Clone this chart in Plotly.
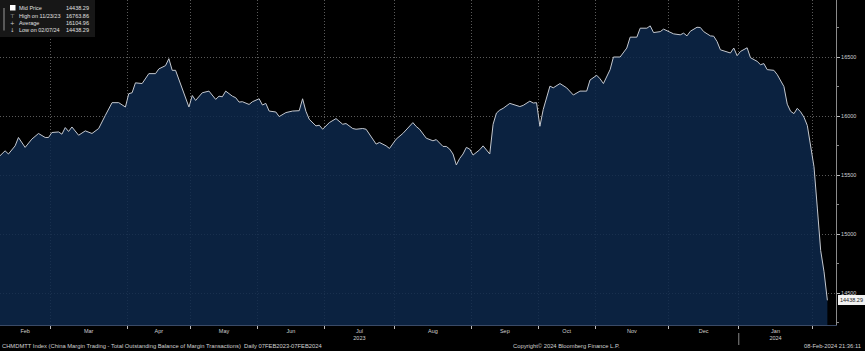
import plotly.graph_objects as go

# ---- data ----
dates = [
    "2023-02-07", "2023-02-09", "2023-02-10", "2023-02-14", "2023-02-15", "2023-02-17", "2023-02-21",
    "2023-02-23", "2023-02-27", "2023-02-28", "2023-03-01", "2023-03-03", "2023-03-06", "2023-03-07",
    "2023-03-08", "2023-03-09", "2023-03-13", "2023-03-15", "2023-03-17", "2023-03-21", "2023-03-23",
    "2023-03-27", "2023-03-29", "2023-03-31", "2023-04-03", "2023-04-04", "2023-04-06", "2023-04-10",
    "2023-04-12", "2023-04-14", "2023-04-17", "2023-04-19", "2023-04-20", "2023-04-21", "2023-04-24",
    "2023-04-26", "2023-04-28", "2023-05-04", "2023-05-05", "2023-05-09", "2023-05-11", "2023-05-15",
    "2023-05-16", "2023-05-17", "2023-05-18", "2023-05-22", "2023-05-23", "2023-05-24", "2023-05-25",
    "2023-05-29", "2023-05-30", "2023-06-01", "2023-06-02", "2023-06-05", "2023-06-06", "2023-06-08",
    "2023-06-09", "2023-06-13", "2023-06-15", "2023-06-19", "2023-06-20", "2023-06-21", "2023-06-26",
    "2023-06-28", "2023-06-29", "2023-06-30", "2023-07-04", "2023-07-06", "2023-07-10", "2023-07-11",
    "2023-07-13", "2023-07-14", "2023-07-18", "2023-07-19", "2023-07-24", "2023-07-25", "2023-07-27",
    "2023-07-28", "2023-08-01", "2023-08-03", "2023-08-08", "2023-08-09", "2023-08-10", "2023-08-14",
    "2023-08-16", "2023-08-17", "2023-08-18", "2023-08-21", "2023-08-22", "2023-08-23", "2023-08-24",
    "2023-08-25", "2023-08-28", "2023-08-29", "2023-08-30", "2023-08-31", "2023-09-01", "2023-09-05",
    "2023-09-06", "2023-09-08", "2023-09-11", "2023-09-12", "2023-09-13", "2023-09-14", "2023-09-18",
    "2023-09-21", "2023-09-22", "2023-09-26", "2023-09-27", "2023-09-28", "2023-10-09", "2023-10-10",
    "2023-10-12", "2023-10-13", "2023-10-17", "2023-10-19", "2023-10-23", "2023-10-25", "2023-10-27",
    "2023-10-30", "2023-11-01", "2023-11-02", "2023-11-03", "2023-11-07", "2023-11-08", "2023-11-10",
    "2023-11-14", "2023-11-15", "2023-11-17", "2023-11-20", "2023-11-22", "2023-11-23", "2023-11-24",
    "2023-11-28", "2023-11-29", "2023-12-01", "2023-12-04", "2023-12-06", "2023-12-07", "2023-12-08",
    "2023-12-11", "2023-12-13", "2023-12-14", "2023-12-15", "2023-12-19", "2023-12-20", "2023-12-21",
    "2023-12-22", "2023-12-26", "2023-12-27", "2023-12-28", "2023-12-29", "2024-01-02", "2024-01-04",
    "2024-01-05", "2024-01-09", "2024-01-10", "2024-01-11", "2024-01-12", "2024-01-16", "2024-01-17",
    "2024-01-19", "2024-01-22", "2024-01-23", "2024-01-24", "2024-01-25", "2024-01-26", "2024-01-29",
    "2024-01-30", "2024-01-31", "2024-02-01", "2024-02-02", "2024-02-05", "2024-02-06", "2024-02-07",
]
mid_price = [
    15650, 15705, 15678, 15747, 15818, 15734, 15804,
    15852, 15818, 15818, 15860, 15865, 15846, 15902,
    15869, 15907, 15837, 15874, 15852, 15894, 16006,
    16113, 16113, 16076, 16189, 16197, 16281, 16275,
    16359, 16359, 16399, 16427, 16486, 16387, 16387,
    16225, 16076, 16174, 16132, 16197, 16211, 16141,
    16168, 16163, 16211, 16168, 16155, 16118, 16121,
    16098, 16121, 16146, 16093, 16107, 16042, 16034,
    15995, 16029, 16042, 16045, 16146, 16040, 15972,
    15916, 15922, 15888, 15944, 15978, 15930, 15936,
    15894, 15888, 15894, 15888, 15762, 15776, 15747,
    15725, 15804, 15852, 15944, 15911, 15888, 15812,
    15790, 15800, 15775, 15742, 15742, 15720, 15678,
    15585, 15640, 15678, 15734, 15720, 15669, 15714,
    15747, 15678, 15930, 16025, 16050, 16065, 16107,
    16080, 16090, 16126, 16110, 16113, 15913, 16056,
    16253, 16239, 16275, 16239, 16178, 16211, 16211,
    16305, 16345, 16315, 16275, 16393, 16500, 16500,
    16576, 16668, 16668, 16744, 16744, 16763.86, 16707,
    16715, 16736, 16707, 16696, 16688, 16702, 16679,
    16718, 16752, 16750, 16715, 16679, 16676, 16631,
    16561, 16547, 16534, 16576, 16511, 16547, 16578,
    16494, 16463, 16435, 16444, 16393, 16387, 16351,
    16250, 16100, 16040, 16020, 16065, 16035, 15990,
    15920, 15760, 15570, 15220, 14860, 14680, 14438.29,
]

# non-trading weekdays (China holidays) in the window
holidays = ["2023-04-05", "2023-05-01", "2023-05-02", "2023-05-03", "2023-06-22", "2023-06-23",
            "2023-09-29", "2023-10-02", "2023-10-03", "2023-10-04", "2023-10-05", "2023-10-06",
            "2024-01-01", "2024-02-09"]

month_labels = ["Feb", "Mar", "Apr", "May", "Jun", "Jul<br>2023", "Aug", "Sep", "Oct", "Nov", "Dec", "Jan<br>2024"]
month_label_pos = ["2023-02-17", "2023-03-16", "2023-04-17", "2023-05-17 12:00", "2023-06-14 12:00",
                   "2023-07-17", "2023-08-16", "2023-09-14 12:00", "2023-10-19", "2023-11-15 12:00",
                   "2023-12-15", "2024-01-16 12:00"]
month_bounds = ["2023-02-28 12:00", "2023-03-31 12:00", "2023-04-28 12:00", "2023-05-31 12:00",
                "2023-06-30 12:00", "2023-07-31 12:00", "2023-08-31 12:00", "2023-09-28 12:00",
                "2023-10-31 12:00", "2023-11-30 12:00", "2023-12-29 12:00", "2024-01-31 12:00"]

y_ticks = [14500, 15000, 15500, 16000, 16500]
y_minor = [14250, 14750, 15250, 15750, 16250, 16750]

legend_rows = [("Mid Price", "14438.29"), ("High on 11/23/23", "16763.86"),
               ("Average", "16104.96"), ("Low on 02/07/24", "14438.29")]
legend_syms = ["", "⊤", "+", "↓"]
last_value = "14438.29"

FONT = "Liberation Sans"
GRID = "#5a5a5a"
GRID_DASH = "1px,2px"

fig = go.Figure()
fig.add_trace(go.Scatter(
    x=dates, y=mid_price, mode="lines",
    line=dict(color="#c4c8cf", width=1),
    fill="tozeroy", fillcolor="rgba(13,40,76,0.84)",
    hoverinfo="skip", showlegend=False,
))

W, H = 865, 351
ML, MR, MT, MB = 0, 29, 0, 26
PW, PH = W - ML - MR, H - MT - MB


def px_x(p):
    return p / PW


def px_y(p):
    return 1 - p / PH


shapes = []
annotations = []

# legend box
shapes.append(dict(type="rect", xref="paper", yref="paper", x0=0, x1=px_x(95), y0=px_y(37), y1=1,
                   fillcolor="#171717", line=dict(width=0), layer="above"))
# tree connector
shapes.append(dict(type="line", xref="paper", yref="paper", x0=px_x(4), x1=px_x(4), y0=px_y(30.5), y1=px_y(8),
                   line=dict(color="#9a9a9a", width=1), layer="above"))
# mid price swatch
shapes.append(dict(type="rect", xref="paper", yref="paper", x0=px_x(10), x1=px_x(15.5), y0=px_y(10.5), y1=px_y(5),
                   fillcolor="#ffffff", line=dict(width=0), layer="above"))
row_y = [8, 15.5, 23, 30.5]
for (lab, val), sym, ry in zip(legend_rows, legend_syms, row_y):
    annotations.append(dict(xref="paper", yref="paper", x=px_x(17), y=px_y(ry), text=lab,
                            xanchor="left", yanchor="middle", showarrow=False,
                            font=dict(family=FONT, size=5.5, color="#e0e0e0")))
    annotations.append(dict(xref="paper", yref="paper", x=px_x(91), y=px_y(ry), text=val,
                            xanchor="right", yanchor="middle", showarrow=False,
                            font=dict(family=FONT, size=5.5, color="#e0e0e0")))
    if sym:
        annotations.append(dict(xref="paper", yref="paper", x=px_x(12.5), y=px_y(ry), text=sym,
                                xanchor="center", yanchor="middle", showarrow=False,
                                font=dict(family="DejaVu Sans", size=5.5, color="#cfcfcf")))

# last value tag
annotations.append(dict(xref="paper", yref="y", x=1, y=mid_price[-1], text=last_value,
                        xanchor="left", yanchor="middle", xshift=2, showarrow=False,
                        bgcolor="#f2f2f2", bordercolor="#f2f2f2", borderpad=1,
                        font=dict(family=FONT, size=5.5, color="#222222")))

# year separator tick
shapes.append(dict(type="line", xref="x", yref="paper", x0=month_bounds[10], x1=month_bounds[10],
                   y0=px_y(PH + 8), y1=px_y(PH + 20), line=dict(color="#8a8a8a", width=1)))

# footer texts
annotations.append(dict(xref="paper", yref="paper", x=0, y=px_y(346), text=(
    "CHMDMTT Index (China Margin Trading - Total Outstanding Balance of Margin Transactions)  "
    "Daily 07FEB2023-07FEB2024"), xanchor="left", yanchor="middle", showarrow=False,
    font=dict(family=FONT, size=5.8, color="#d0d0d0")))
annotations.append(dict(xref="paper", yref="paper", x=px_x(566), y=px_y(346),
                        text="Copyright© 2024 Bloomberg Finance L.P.", xanchor="center", yanchor="middle",
                        showarrow=False, font=dict(family=FONT, size=5.8, color="#d0d0d0")))
annotations.append(dict(xref="paper", yref="paper", x=px_x(863), y=px_y(346),
                        text="08-Feb-2024 21:36:11", xanchor="right", yanchor="middle",
                        showarrow=False, font=dict(family=FONT, size=5.8, color="#d0d0d0")))

fig.update_layout(
    width=W, height=H,
    margin=dict(l=ML, r=MR, t=MT, b=MB, pad=0),
    paper_bgcolor="#000000", plot_bgcolor="#000000",
    showlegend=False,
    shapes=shapes, annotations=annotations,
    xaxis=dict(
        type="date",
        range=["2023-02-07 11:30", "2024-02-12 14:00"],
        rangebreaks=[dict(bounds=["sat", "mon"]), dict(values=holidays)],
        tickmode="array", tickvals=month_label_pos, ticktext=month_labels,
        ticks="", showgrid=False, zeroline=False,
        tickfont=dict(family=FONT, size=5.5, color="#d0d0d0"),
        showline=True, linecolor="#3a4a66", linewidth=1,
        minor=dict(tickmode="array", tickvals=month_bounds, ticks="outside", ticklen=3,
                   tickcolor="#bbbbbb", showgrid=True, gridcolor=GRID, griddash=GRID_DASH, gridwidth=1),
    ),
    yaxis=dict(
        side="right",
        range=[14229, 16983],
        tickmode="array", tickvals=y_ticks, ticktext=[str(v) for v in y_ticks],
        ticks="outside", ticklen=3, tickcolor="#bbbbbb",
        showgrid=True, gridcolor=GRID, griddash=GRID_DASH, gridwidth=1, zeroline=False,
        tickfont=dict(family=FONT, size=5.5, color="#d0d0d0"),
        showline=True, linecolor="#8a8a8a", linewidth=1,
        minor=dict(tickmode="array", tickvals=y_minor, ticks="outside", ticklen=2,
                   tickcolor="#888888", showgrid=False),
    ),
)

fig.write_html("out.html")
